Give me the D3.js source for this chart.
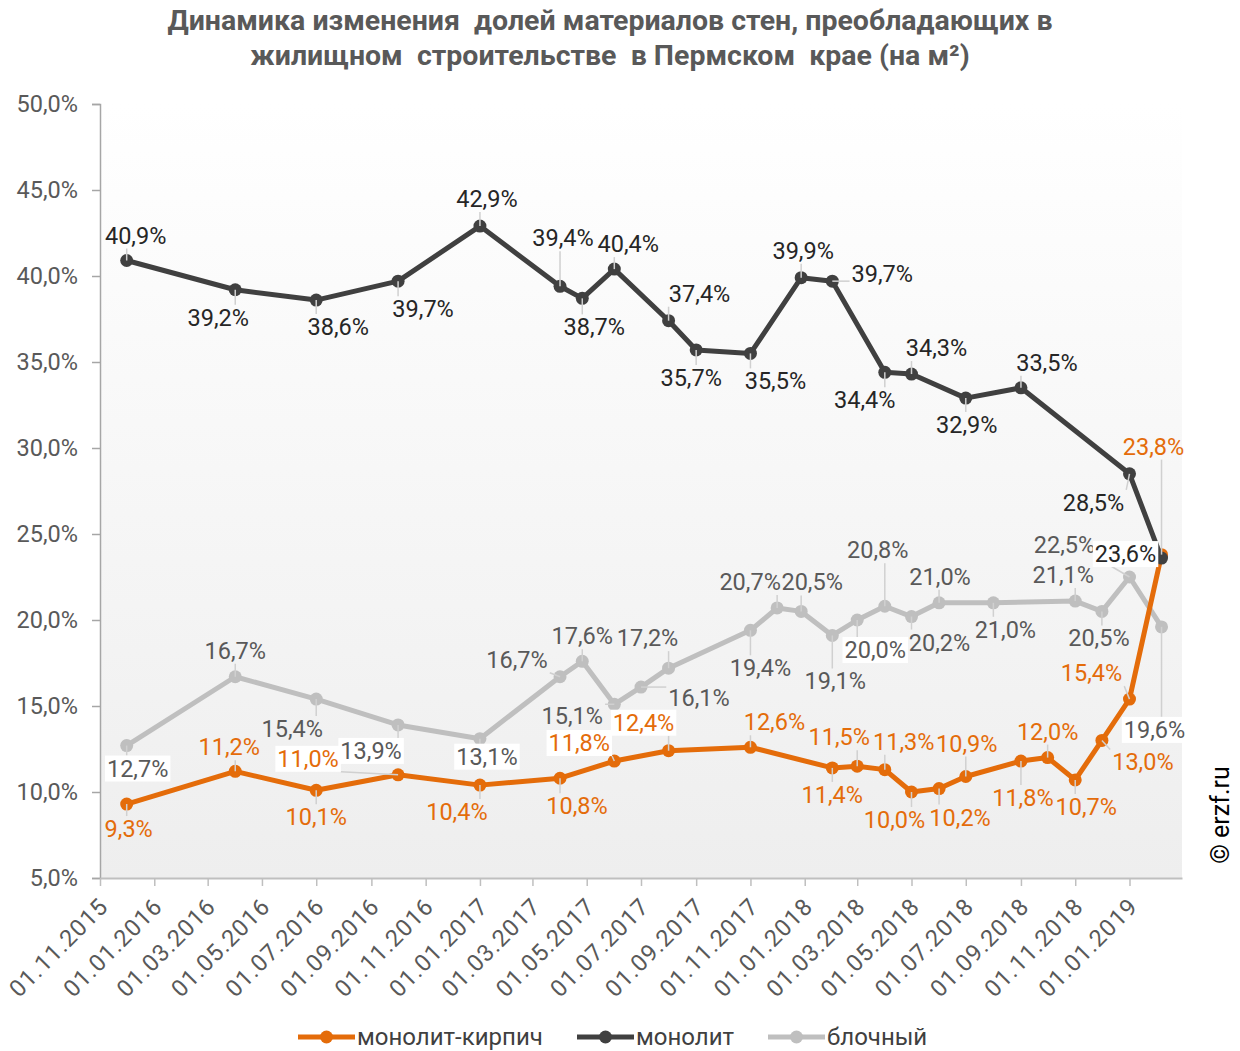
<!DOCTYPE html>
<html>
<head>
<meta charset="utf-8">
<title>Материалы стен, Пермский край</title>
<style>
  body { margin: 0; background: #fff; }
  text { font-family: Roboto, sans-serif; }
  .title { font-size: 28.5px; font-weight: bold; fill: #595959; text-anchor: middle; white-space: pre; }
  .axis text { font-size: 23.5px; fill: #595959; }
  .lbl { font-size: 23.5px; text-anchor: middle; dominant-baseline: central; }
  .legend text { font-size: 24px; fill: #404040; dominant-baseline: central; }
</style>
</head>
<body>
<script src="https://cdnjs.cloudflare.com/ajax/libs/d3/7.8.5/d3.min.js"></script>
<script>
var seriesNames = ["монолит-кирпич", "монолит", "блочный"];

var kirpichDates = ["01.12.2015", "01.04.2016", "01.07.2016", "01.10.2016", "01.01.2017",
  "01.04.2017", "01.06.2017", "01.08.2017", "01.11.2017", "01.02.2018", "01.03.2018",
  "01.04.2018", "01.05.2018", "01.06.2018", "01.07.2018", "01.09.2018", "01.10.2018",
  "01.11.2018", "01.12.2018", "01.01.2019", "06.02.2019"];
var kirpichValues = [9.3, 11.2, 10.1, 11.0, 10.4, 10.8, 11.8, 12.4, 12.6, 11.4, 11.5,
  11.3, 10.0, 10.2, 10.9, 11.8, 12.0, 10.7, 13.0, 15.4, 23.8];

var monolitDates = ["01.12.2015", "01.04.2016", "01.07.2016", "01.10.2016", "01.01.2017",
  "01.04.2017", "26.04.2017", "01.06.2017", "01.08.2017", "01.09.2017", "01.11.2017",
  "28.12.2017", "01.02.2018", "01.04.2018", "01.05.2018", "01.07.2018", "01.09.2018",
  "01.01.2019", "06.02.2019"];
var monolitValues = [40.9, 39.2, 38.6, 39.7, 42.9, 39.4, 38.7, 40.4, 37.4, 35.7, 35.5,
  39.9, 39.7, 34.4, 34.3, 32.9, 33.5, 28.5, 23.6];

var blockDates = ["01.12.2015", "01.04.2016", "01.07.2016", "01.10.2016", "01.01.2017",
  "01.04.2017", "26.04.2017", "01.06.2017", "01.07.2017", "01.08.2017", "01.11.2017",
  "01.12.2017", "28.12.2017", "01.02.2018", "01.03.2018", "01.04.2018", "01.05.2018",
  "01.06.2018", "01.08.2018", "01.11.2018", "01.12.2018", "01.01.2019", "06.02.2019"];
var blockValues = [12.7, 16.7, 15.4, 13.9, 13.1, 16.7, 17.6, 15.1, 16.1, 17.2, 19.4,
  20.7, 20.5, 19.1, 20.0, 20.8, 20.2, 21.0, 21.0, 21.1, 20.5, 22.5, 19.6];

var tickLabels = ["01.11.2015", "01.01.2016", "01.03.2016", "01.05.2016", "01.07.2016",
  "01.09.2016", "01.11.2016", "01.01.2017", "01.03.2017", "01.05.2017", "01.07.2017",
  "01.09.2017", "01.11.2017", "01.01.2018", "01.03.2018", "01.05.2018", "01.07.2018",
  "01.09.2018", "01.11.2018", "01.01.2019"];
var yTicks = [5, 10, 15, 20, 25, 30, 35, 40, 45, 50];

// label placement (offset of label centre from point), and which labels get a white box
var kirpichOffsets = [[2,25],[-6,-24],[0,27],[-90,-16],[-23,27],[17,28],[-35,-18],[-25,-28],
  [24,-25],[0,27],[-18,-29],[19,-28],[-17,28],[21,29],[1,-33],[2,37],[0,-26],[11,27],
  [41,22],[-38,-26],[-8,-108]];
var kirpichBoxes = [3, 6, 7];
var monolitOffsets = [[9,-25],[-17,28],[22,27],[25,28],[7,-27],[3,-48],[12,29],[14,-25],
  [31,-27],[-5,28],[25,28],[2,-27],[50,-7],[-20,28],[25,-26],[1,27],[26,-25],[-36,29],[-36,-4]];
var monolitBoxes = [18];
var blockOffsets = [[11,23],[0,-26],[-24,30],[-27,26],[7,18],[-43,-17],[0,-25],[-42,12],
  [58,11],[-21,-30],[10,38],[-27,-26],[11,-29],[3,46],[18,30],[-7,-56],[28,26],[1,-26],
  [12,27],[-12,-26],[-3,27],[-65,-32],[-7,103]];
var blockBoxes = [0, 3, 4, 14, 22];

var parse = d3.timeParse("%d.%m.%Y");
var fmt = function(v) { return v.toFixed(1).replace(".", ",") + "%"; };

var width = 1240, height = 1051;
var plot = { left: 100, right: 1182, top: 104, bottom: 878 };

var x = d3.scaleTime()
  .domain([parse("01.11.2015"), parse("01.03.2019")])
  .range([plot.left, plot.right]);
var y = d3.scaleLinear().domain([5, 50]).range([plot.bottom, plot.top]);

function build(dates, values, offsets, boxes) {
  return dates.map(function(d, i) {
    return { date: parse(d), value: values[i], off: offsets[i], box: boxes.indexOf(i) >= 0 };
  });
}

var series = [
  { name: seriesNames[2], color: "#bfbfbf", text: "#595959",
    data: build(blockDates, blockValues, blockOffsets, blockBoxes) },
  { name: seriesNames[0], color: "#e46c0a", text: "#e46c0a",
    data: build(kirpichDates, kirpichValues, kirpichOffsets, kirpichBoxes) },
  { name: seriesNames[1], color: "#404040", text: "#262626",
    data: build(monolitDates, monolitValues, monolitOffsets, monolitBoxes) }
];

var svg = d3.select("body").append("svg")
  .attr("width", width)
  .attr("height", height);

var grad = svg.append("defs").append("linearGradient")
  .attr("id", "bg").attr("x1", 0).attr("y1", 0).attr("x2", 0).attr("y2", 1);
grad.append("stop").attr("offset", "0%").attr("stop-color", "#ffffff");
grad.append("stop").attr("offset", "100%").attr("stop-color", "#eeeeee");

svg.append("rect")
  .attr("x", plot.left).attr("y", plot.top)
  .attr("width", plot.right - plot.left).attr("height", plot.bottom - plot.top)
  .attr("fill", "url(#bg)");

// title
svg.append("text").attr("class", "title").attr("x", 610).attr("y", 30)
  .text("Динамика изменения  долей материалов стен, преобладающих в");
svg.append("text").attr("class", "title").attr("x", 610).attr("y", 65)
  .text("жилищном  строительстве  в Пермском  крае (на м²)");

// y axis
var yAxis = svg.append("g").attr("class", "axis")
  .attr("transform", "translate(" + plot.left + ",0)")
  .call(d3.axisLeft(y).tickValues(yTicks).tickSize(8).tickPadding(14)
    .tickFormat(function(d) { return d.toFixed(1).replace(".", ",") + "%"; }));
yAxis.select(".domain").attr("stroke", "#a6a6a6").attr("stroke-width", 1.5);
yAxis.selectAll(".tick line").attr("stroke", "#a6a6a6").attr("stroke-width", 1.5);
yAxis.selectAll("text").attr("font-family", "Roboto, sans-serif");

// x axis
var xAxis = svg.append("g").attr("class", "axis")
  .attr("transform", "translate(0," + plot.bottom + ")")
  .call(d3.axisBottom(x).tickValues(tickLabels.map(parse)).tickSize(8).tickSizeOuter(0)
    .tickFormat(d3.timeFormat("%d.%m.%Y")));
xAxis.select(".domain").attr("stroke", "#bfbfbf").attr("stroke-width", 2);
xAxis.selectAll(".tick line").attr("stroke", "#bfbfbf").attr("stroke-width", 1.5);
xAxis.selectAll("text")
  .attr("font-family", "Roboto, sans-serif")
  .attr("font-size", 24)
  .attr("letter-spacing", 1)
  .attr("text-anchor", "end")
  .attr("dy", null)
  .attr("y", 0)
  .attr("transform", "translate(9,30) rotate(-45)");

// lines and markers
var line = d3.line().x(function(d) { return x(d.date); }).y(function(d) { return y(d.value); });

series.forEach(function(s) {
  var g = svg.append("g");
  g.append("path").datum(s.data)
    .attr("d", line)
    .attr("fill", "none")
    .attr("stroke", s.color)
    .attr("stroke-width", 5)
    .attr("stroke-linejoin", "round");
  g.selectAll("circle").data(s.data).enter().append("circle")
    .attr("cx", function(d) { return x(d.date); })
    .attr("cy", function(d) { return y(d.value); })
    .attr("r", 6.5)
    .attr("fill", s.color);
});

// data labels with leader lines
var leaders = svg.append("g");
var labels = svg.append("g");
series.forEach(function(s) {
  s.data.forEach(function(d) {
    var px = x(d.date), py = y(d.value);
    var cx = px + d.off[0], cy = py + d.off[1];
    var lg = labels.append("g");
    var t = lg.append("text").attr("class", "lbl")
      .attr("x", cx).attr("y", cy)
      .attr("fill", s.text)
      .text(fmt(d.value));
    var bb = t.node().getBBox();
    var hw = bb.width / 2 + 2, hh = 13;
    if (d.box) {
      lg.insert("rect", "text")
        .attr("x", cx - hw).attr("y", cy - hh)
        .attr("width", hw * 2).attr("height", hh * 2)
        .attr("fill", "#fff");
    }
    var ex = Math.max(cx - hw, Math.min(px, cx + hw));
    var ey = Math.max(cy - hh, Math.min(py, cy + hh));
    if (Math.hypot(ex - px, ey - py) > 4) {
      leaders.append("line")
        .attr("x1", px).attr("y1", py).attr("x2", ex).attr("y2", ey)
        .attr("stroke", "#d0d0d0").attr("stroke-width", 1.5);
    }
  });
});

// legend
var legendItems = [
  { name: seriesNames[0], color: "#e46c0a", x: 298 },
  { name: seriesNames[1], color: "#404040", x: 577 },
  { name: seriesNames[2], color: "#bfbfbf", x: 768 }
];
var legend = svg.append("g").attr("class", "legend");
legendItems.forEach(function(it) {
  var g = legend.append("g").attr("transform", "translate(" + it.x + ",1037)");
  g.append("line").attr("x1", 0).attr("x2", 57).attr("stroke", it.color).attr("stroke-width", 5);
  g.append("circle").attr("cx", 28.5).attr("r", 6.5).attr("fill", it.color);
  g.append("text").attr("x", 59).attr("y", 0).text(it.name);
});

// source
svg.append("text")
  .attr("transform", "translate(1229,815) rotate(-90)")
  .attr("text-anchor", "middle")
  .attr("font-size", 25)
  .attr("fill", "#000")
  .text("© erzf.ru");
</script>
</body>
</html>
